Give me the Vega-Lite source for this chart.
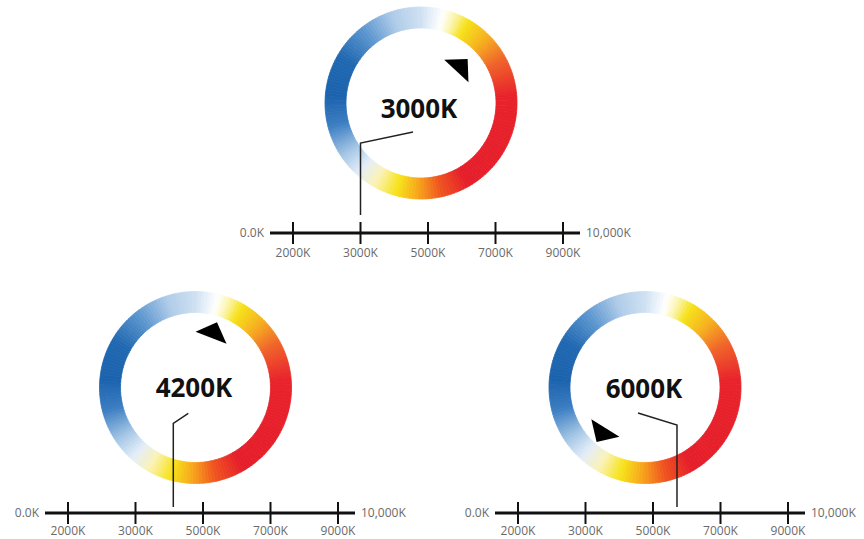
{
  "$schema": "https://vega.github.io/schema/vega-lite/v6.json",
  "padding": 0,
  "background": "white",
  "config": {"view": {"stroke": null}, "axis": {"disable": true}},
  "datasets": {
    "ring": [
      {"a":0,"b":2},{"a":2,"b":4},{"a":4,"b":6},{"a":6,"b":8},{"a":8,"b":10},{"a":10,"b":12},{"a":12,"b":14},{"a":14,"b":16},{"a":16,"b":18},{"a":18,"b":20},
      {"a":20,"b":22},{"a":22,"b":24},{"a":24,"b":26},{"a":26,"b":28},{"a":28,"b":30},{"a":30,"b":32},{"a":32,"b":34},{"a":34,"b":36},{"a":36,"b":38},{"a":38,"b":40},
      {"a":40,"b":42},{"a":42,"b":44},{"a":44,"b":46},{"a":46,"b":48},{"a":48,"b":50},{"a":50,"b":52},{"a":52,"b":54},{"a":54,"b":56},{"a":56,"b":58},{"a":58,"b":60},
      {"a":60,"b":62},{"a":62,"b":64},{"a":64,"b":66},{"a":66,"b":68},{"a":68,"b":70},{"a":70,"b":72},{"a":72,"b":74},{"a":74,"b":76},{"a":76,"b":78},{"a":78,"b":80},
      {"a":80,"b":82},{"a":82,"b":84},{"a":84,"b":86},{"a":86,"b":88},{"a":88,"b":90},{"a":90,"b":92},{"a":92,"b":94},{"a":94,"b":96},{"a":96,"b":98},{"a":98,"b":100},
      {"a":100,"b":102},{"a":102,"b":104},{"a":104,"b":106},{"a":106,"b":108},{"a":108,"b":110},{"a":110,"b":112},{"a":112,"b":114},{"a":114,"b":116},{"a":116,"b":118},{"a":118,"b":120},
      {"a":120,"b":122},{"a":122,"b":124},{"a":124,"b":126},{"a":126,"b":128},{"a":128,"b":130},{"a":130,"b":132},{"a":132,"b":134},{"a":134,"b":136},{"a":136,"b":138},{"a":138,"b":140},
      {"a":140,"b":142},{"a":142,"b":144},{"a":144,"b":146},{"a":146,"b":148},{"a":148,"b":150},{"a":150,"b":152},{"a":152,"b":154},{"a":154,"b":156},{"a":156,"b":158},{"a":158,"b":160},
      {"a":160,"b":162},{"a":162,"b":164},{"a":164,"b":166},{"a":166,"b":168},{"a":168,"b":170},{"a":170,"b":172},{"a":172,"b":174},{"a":174,"b":176},{"a":176,"b":178},{"a":178,"b":180},
      {"a":180,"b":182},{"a":182,"b":184},{"a":184,"b":186},{"a":186,"b":188},{"a":188,"b":190},{"a":190,"b":192},{"a":192,"b":194},{"a":194,"b":196},{"a":196,"b":198},{"a":198,"b":200},
      {"a":200,"b":202},{"a":202,"b":204},{"a":204,"b":206},{"a":206,"b":208},{"a":208,"b":210},{"a":210,"b":212},{"a":212,"b":214},{"a":214,"b":216},{"a":216,"b":218},{"a":218,"b":220},
      {"a":220,"b":222},{"a":222,"b":224},{"a":224,"b":226},{"a":226,"b":228},{"a":228,"b":230},{"a":230,"b":232},{"a":232,"b":234},{"a":234,"b":236},{"a":236,"b":238},{"a":238,"b":240},
      {"a":240,"b":242},{"a":242,"b":244},{"a":244,"b":246},{"a":246,"b":248},{"a":248,"b":250},{"a":250,"b":252},{"a":252,"b":254},{"a":254,"b":256},{"a":256,"b":258},{"a":258,"b":260},
      {"a":260,"b":262},{"a":262,"b":264},{"a":264,"b":266},{"a":266,"b":268},{"a":268,"b":270},{"a":270,"b":272},{"a":272,"b":274},{"a":274,"b":276},{"a":276,"b":278},{"a":278,"b":280},
      {"a":280,"b":282},{"a":282,"b":284},{"a":284,"b":286},{"a":286,"b":288},{"a":288,"b":290},{"a":290,"b":292},{"a":292,"b":294},{"a":294,"b":296},{"a":296,"b":298},{"a":298,"b":300},
      {"a":300,"b":302},{"a":302,"b":304},{"a":304,"b":306},{"a":306,"b":308},{"a":308,"b":310},{"a":310,"b":312},{"a":312,"b":314},{"a":314,"b":316},{"a":316,"b":318},{"a":318,"b":320},
      {"a":320,"b":322},{"a":322,"b":324},{"a":324,"b":326},{"a":326,"b":328},{"a":328,"b":330},{"a":330,"b":332},{"a":332,"b":334},{"a":334,"b":336},{"a":336,"b":338},{"a":338,"b":340},
      {"a":340,"b":342},{"a":342,"b":344},{"a":344,"b":346},{"a":346,"b":348},{"a":348,"b":350},{"a":350,"b":352},{"a":352,"b":354},{"a":354,"b":356},{"a":356,"b":358},{"a":358,"b":360}
    ],
    "ticks": [
      {"k":2000,"label":"2000K"},{"k":3000,"label":"3000K"},{"k":5000,"label":"5000K"},{"k":7000,"label":"7000K"},{"k":9000,"label":"9000K"}
    ],
    "ends": [
      {"k":0,"label":"0.0K"},{"k":10000,"label":"10,000K"}
    ],
    "panels": [
      {"panel":"A","label":"3000K","lx":4733,"ly":123,"px":6007,"py":168,"pa":43},
      {"panel":"B","label":"4200K","lx":4733,"ly":124,"px":5326,"py":183,"pa":21},
      {"panel":"C","label":"6000K","lx":4733,"ly":123,"px":3459,"py":78,"pa":212}
    ],
    "leaders": [
      {"panel":"A","k":3000,"y":18,"o":1},{"panel":"A","k":3000,"y":90,"o":2},{"panel":"A","k":4556,"y":101,"o":3},
      {"panel":"B","k":4120,"y":6,"o":1},{"panel":"B","k":4120,"y":89.7,"o":2},{"panel":"B","k":4564,"y":99.7,"o":3},
      {"panel":"C","k":5711,"y":6,"o":1},{"panel":"C","k":5711,"y":88,"o":2},{"panel":"C","k":4556,"y":100,"o":3}
    ]
  },
  "spacing": 9,
  "center": true,
  "vconcat": [
    {
      "width": 414, "height": 265,
      "layer": [
        {"data":{"name":"ring"},"mark":{"type":"arc","radius":96,"radius2":75,"strokeWidth":0.8},
         "encoding":{
           "theta":{"field":"a","type":"quantitative","scale":{"domain":[0,360]},"stack":null},
           "theta2":{"field":"b"},
           "x":{"datum":4793,"type":"quantitative","axis":null,"scale":{"type":"linear","domain":[0,2000,3000,5000,7000,9000,10000],"range":[45,68,135.5,203,270.5,338,355],"nice":false,"zero":false}},
           "y":{"datum":130,"type":"quantitative","axis":null,"scale":{"domain":[-32,233],"nice":false,"zero":false}},
           "color":{"field":"a","type":"quantitative","legend":null,"scale":{"type":"linear","interpolate":"rgb","nice":false,"zero":false,"domain":[-1,13,21,29,44,61,84,149,167,181,195,209,221,235,255,274,299,321,341,359],"range":["#cfe1f2","#ffffff","#fbf3a6","#f6e21a","#f6b01f","#f0632a","#e8232b","#e51e2b","#f0561f","#f7a51c","#f7e31b","#fbf2b8","#e4eef8","#a6c7e6","#3b7dc1","#1c63ae","#2068b1","#5c96cf","#aecbe8","#cfe1f2"]}},
           "stroke":{"field":"a","type":"quantitative","legend":null,"scale":{"type":"linear","interpolate":"rgb","nice":false,"zero":false,"domain":[-1,13,21,29,44,61,84,149,167,181,195,209,221,235,255,274,299,321,341,359],"range":["#cfe1f2","#ffffff","#fbf3a6","#f6e21a","#f6b01f","#f0632a","#e8232b","#e51e2b","#f0561f","#f7a51c","#f7e31b","#fbf2b8","#e4eef8","#a6c7e6","#3b7dc1","#1c63ae","#2068b1","#5c96cf","#aecbe8","#cfe1f2"]}}
         }},
        {"data":{"name":"ends"},"mark":{"type":"line","color":"#111","strokeWidth":3},
         "encoding":{"x":{"field":"k","type":"quantitative","axis":null},"y":{"datum":0,"type":"quantitative","axis":null}}},
        {"data":{"name":"ticks"},"mark":{"type":"rule","color":"#111","strokeWidth":2},
         "encoding":{"x":{"field":"k","type":"quantitative","axis":null},"y":{"datum":-11,"type":"quantitative","axis":null},"y2":{"datum":11}}},
        {"data":{"name":"ticks"},"mark":{"type":"text","font":"Open Sans","fontSize":12,"color":"#6a6a6a","baseline":"middle"},
         "encoding":{"x":{"field":"k","type":"quantitative","axis":null},"y":{"datum":-20,"type":"quantitative","axis":null},"text":{"field":"label"}}},
        {"data":{"name":"ends"},"transform":[{"filter":"datum.k === 0"}],"mark":{"type":"text","font":"Open Sans","fontSize":12,"color":"#6a6a6a","align":"right","baseline":"middle","dx":-6},
         "encoding":{"x":{"field":"k","type":"quantitative","axis":null},"y":{"datum":0,"type":"quantitative","axis":null},"text":{"field":"label"}}},
        {"data":{"name":"ends"},"transform":[{"filter":"datum.k === 10000"}],"mark":{"type":"text","font":"Open Sans","fontSize":12,"color":"#6a6a6a","align":"left","baseline":"middle","dx":6},
         "encoding":{"x":{"field":"k","type":"quantitative","axis":null},"y":{"datum":0,"type":"quantitative","axis":null},"text":{"field":"label"}}},
        {"data":{"name":"leaders"},"transform":[{"filter":"datum.panel === 'A'"}],"mark":{"type":"line","color":"#222","strokeWidth":1.5},
         "encoding":{"x":{"field":"k","type":"quantitative","axis":null},"y":{"field":"y","type":"quantitative","axis":null},"order":{"field":"o"}}},
        {"data":{"name":"panels"},"transform":[{"filter":"datum.panel === 'A'"}],"mark":{"type":"text","font":"Open Sans","fontWeight":"bold","fontSize":26,"color":"#111","baseline":"middle"},
         "encoding":{"x":{"field":"lx","type":"quantitative","axis":null},"y":{"field":"ly","type":"quantitative","axis":null},"text":{"field":"label"}}},
        {"data":{"name":"panels"},"transform":[{"filter":"datum.panel === 'A'"}],"mark":{"type":"point","shape":"M0,-0.5L1,0.5L-1,0.5Z","size":1100,"filled":true,"color":"#000","opacity":1},
         "encoding":{"x":{"field":"px","type":"quantitative","axis":null},"y":{"field":"py","type":"quantitative","axis":null},"angle":{"field":"pa","type":"quantitative","scale":null}}}
      ]
    },
    {
      "spacing": 36,
      "hconcat": [
        {
          "width": 414, "height": 265,
          "layer": [
            {"data":{"name":"ring"},"mark":{"type":"arc","radius":96,"radius2":75,"strokeWidth":0.8},
             "encoding":{
               "theta":{"field":"a","type":"quantitative","scale":{"domain":[0,360]},"stack":null},
               "theta2":{"field":"b"},
               "x":{"datum":4778,"type":"quantitative","axis":null,"scale":{"type":"linear","domain":[0,2000,3000,5000,7000,9000,10000],"range":[45,68,135.5,203,270.5,338,355],"nice":false,"zero":false}},
               "y":{"datum":125.5,"type":"quantitative","axis":null,"scale":{"domain":[-26,239],"nice":false,"zero":false}},
               "color":{"field":"a","type":"quantitative","legend":null,"scale":{"type":"linear","interpolate":"rgb","nice":false,"zero":false,"domain":[-1,13,21,29,44,61,84,149,167,181,195,209,221,235,255,274,299,321,341,359],"range":["#cfe1f2","#ffffff","#fbf3a6","#f6e21a","#f6b01f","#f0632a","#e8232b","#e51e2b","#f0561f","#f7a51c","#f7e31b","#fbf2b8","#e4eef8","#a6c7e6","#3b7dc1","#1c63ae","#2068b1","#5c96cf","#aecbe8","#cfe1f2"]}},
               "stroke":{"field":"a","type":"quantitative","legend":null,"scale":{"type":"linear","interpolate":"rgb","nice":false,"zero":false,"domain":[-1,13,21,29,44,61,84,149,167,181,195,209,221,235,255,274,299,321,341,359],"range":["#cfe1f2","#ffffff","#fbf3a6","#f6e21a","#f6b01f","#f0632a","#e8232b","#e51e2b","#f0561f","#f7a51c","#f7e31b","#fbf2b8","#e4eef8","#a6c7e6","#3b7dc1","#1c63ae","#2068b1","#5c96cf","#aecbe8","#cfe1f2"]}}
             }},
            {"data":{"name":"ends"},"mark":{"type":"line","color":"#111","strokeWidth":3},
             "encoding":{"x":{"field":"k","type":"quantitative","axis":null},"y":{"datum":0,"type":"quantitative","axis":null}}},
            {"data":{"name":"ticks"},"mark":{"type":"rule","color":"#111","strokeWidth":2},
             "encoding":{"x":{"field":"k","type":"quantitative","axis":null},"y":{"datum":-11,"type":"quantitative","axis":null},"y2":{"datum":11}}},
            {"data":{"name":"ticks"},"mark":{"type":"text","font":"Open Sans","fontSize":12,"color":"#6a6a6a","baseline":"middle"},
             "encoding":{"x":{"field":"k","type":"quantitative","axis":null},"y":{"datum":-18,"type":"quantitative","axis":null},"text":{"field":"label"}}},
            {"data":{"name":"ends"},"transform":[{"filter":"datum.k === 0"}],"mark":{"type":"text","font":"Open Sans","fontSize":12,"color":"#6a6a6a","align":"right","baseline":"middle","dx":-6},
             "encoding":{"x":{"field":"k","type":"quantitative","axis":null},"y":{"datum":0,"type":"quantitative","axis":null},"text":{"field":"label"}}},
            {"data":{"name":"ends"},"transform":[{"filter":"datum.k === 10000"}],"mark":{"type":"text","font":"Open Sans","fontSize":12,"color":"#6a6a6a","align":"left","baseline":"middle","dx":6},
             "encoding":{"x":{"field":"k","type":"quantitative","axis":null},"y":{"datum":0,"type":"quantitative","axis":null},"text":{"field":"label"}}},
            {"data":{"name":"leaders"},"transform":[{"filter":"datum.panel === 'B'"}],"mark":{"type":"line","color":"#222","strokeWidth":1.5},
             "encoding":{"x":{"field":"k","type":"quantitative","axis":null},"y":{"field":"y","type":"quantitative","axis":null},"order":{"field":"o"}}},
            {"data":{"name":"panels"},"transform":[{"filter":"datum.panel === 'B'"}],"mark":{"type":"text","font":"Open Sans","fontWeight":"bold","fontSize":26,"color":"#111","baseline":"middle"},
             "encoding":{"x":{"field":"lx","type":"quantitative","axis":null},"y":{"field":"ly","type":"quantitative","axis":null},"text":{"field":"label"}}},
            {"data":{"name":"panels"},"transform":[{"filter":"datum.panel === 'B'"}],"mark":{"type":"point","shape":"M0,-0.5L1,0.5L-1,0.5Z","size":1100,"filled":true,"color":"#000","opacity":1},
             "encoding":{"x":{"field":"px","type":"quantitative","axis":null},"y":{"field":"py","type":"quantitative","axis":null},"angle":{"field":"pa","type":"quantitative","scale":null}}}
          ]
        },
        {
          "width": 414, "height": 265,
          "layer": [
            {"data":{"name":"ring"},"mark":{"type":"arc","radius":96,"radius2":75,"strokeWidth":0.8},
             "encoding":{
               "theta":{"field":"a","type":"quantitative","scale":{"domain":[0,360]},"stack":null},
               "theta2":{"field":"b"},
               "x":{"datum":4763,"type":"quantitative","axis":null,"scale":{"type":"linear","domain":[0,2000,3000,5000,7000,9000,10000],"range":[45,68,135.5,203,270.5,338,355],"nice":false,"zero":false}},
               "y":{"datum":125.5,"type":"quantitative","axis":null,"scale":{"domain":[-26,239],"nice":false,"zero":false}},
               "color":{"field":"a","type":"quantitative","legend":null,"scale":{"type":"linear","interpolate":"rgb","nice":false,"zero":false,"domain":[-1,13,21,29,44,61,84,149,167,181,195,209,221,235,255,274,299,321,341,359],"range":["#cfe1f2","#ffffff","#fbf3a6","#f6e21a","#f6b01f","#f0632a","#e8232b","#e51e2b","#f0561f","#f7a51c","#f7e31b","#fbf2b8","#e4eef8","#a6c7e6","#3b7dc1","#1c63ae","#2068b1","#5c96cf","#aecbe8","#cfe1f2"]}},
               "stroke":{"field":"a","type":"quantitative","legend":null,"scale":{"type":"linear","interpolate":"rgb","nice":false,"zero":false,"domain":[-1,13,21,29,44,61,84,149,167,181,195,209,221,235,255,274,299,321,341,359],"range":["#cfe1f2","#ffffff","#fbf3a6","#f6e21a","#f6b01f","#f0632a","#e8232b","#e51e2b","#f0561f","#f7a51c","#f7e31b","#fbf2b8","#e4eef8","#a6c7e6","#3b7dc1","#1c63ae","#2068b1","#5c96cf","#aecbe8","#cfe1f2"]}}
             }},
            {"data":{"name":"ends"},"mark":{"type":"line","color":"#111","strokeWidth":3},
             "encoding":{"x":{"field":"k","type":"quantitative","axis":null},"y":{"datum":0,"type":"quantitative","axis":null}}},
            {"data":{"name":"ticks"},"mark":{"type":"rule","color":"#111","strokeWidth":2},
             "encoding":{"x":{"field":"k","type":"quantitative","axis":null},"y":{"datum":-11,"type":"quantitative","axis":null},"y2":{"datum":11}}},
            {"data":{"name":"ticks"},"mark":{"type":"text","font":"Open Sans","fontSize":12,"color":"#6a6a6a","baseline":"middle"},
             "encoding":{"x":{"field":"k","type":"quantitative","axis":null},"y":{"datum":-18,"type":"quantitative","axis":null},"text":{"field":"label"}}},
            {"data":{"name":"ends"},"transform":[{"filter":"datum.k === 0"}],"mark":{"type":"text","font":"Open Sans","fontSize":12,"color":"#6a6a6a","align":"right","baseline":"middle","dx":-6},
             "encoding":{"x":{"field":"k","type":"quantitative","axis":null},"y":{"datum":0,"type":"quantitative","axis":null},"text":{"field":"label"}}},
            {"data":{"name":"ends"},"transform":[{"filter":"datum.k === 10000"}],"mark":{"type":"text","font":"Open Sans","fontSize":12,"color":"#6a6a6a","align":"left","baseline":"middle","dx":6},
             "encoding":{"x":{"field":"k","type":"quantitative","axis":null},"y":{"datum":0,"type":"quantitative","axis":null},"text":{"field":"label"}}},
            {"data":{"name":"leaders"},"transform":[{"filter":"datum.panel === 'C'"}],"mark":{"type":"line","color":"#222","strokeWidth":1.5},
             "encoding":{"x":{"field":"k","type":"quantitative","axis":null},"y":{"field":"y","type":"quantitative","axis":null},"order":{"field":"o"}}},
            {"data":{"name":"panels"},"transform":[{"filter":"datum.panel === 'C'"}],"mark":{"type":"text","font":"Open Sans","fontWeight":"bold","fontSize":26,"color":"#111","baseline":"middle"},
             "encoding":{"x":{"field":"lx","type":"quantitative","axis":null},"y":{"field":"ly","type":"quantitative","axis":null},"text":{"field":"label"}}},
            {"data":{"name":"panels"},"transform":[{"filter":"datum.panel === 'C'"}],"mark":{"type":"point","shape":"M0,-0.5L1,0.5L-1,0.5Z","size":1100,"filled":true,"color":"#000","opacity":1},
             "encoding":{"x":{"field":"px","type":"quantitative","axis":null},"y":{"field":"py","type":"quantitative","axis":null},"angle":{"field":"pa","type":"quantitative","scale":null}}}
          ]
        }
      ]
    }
  ]
}
